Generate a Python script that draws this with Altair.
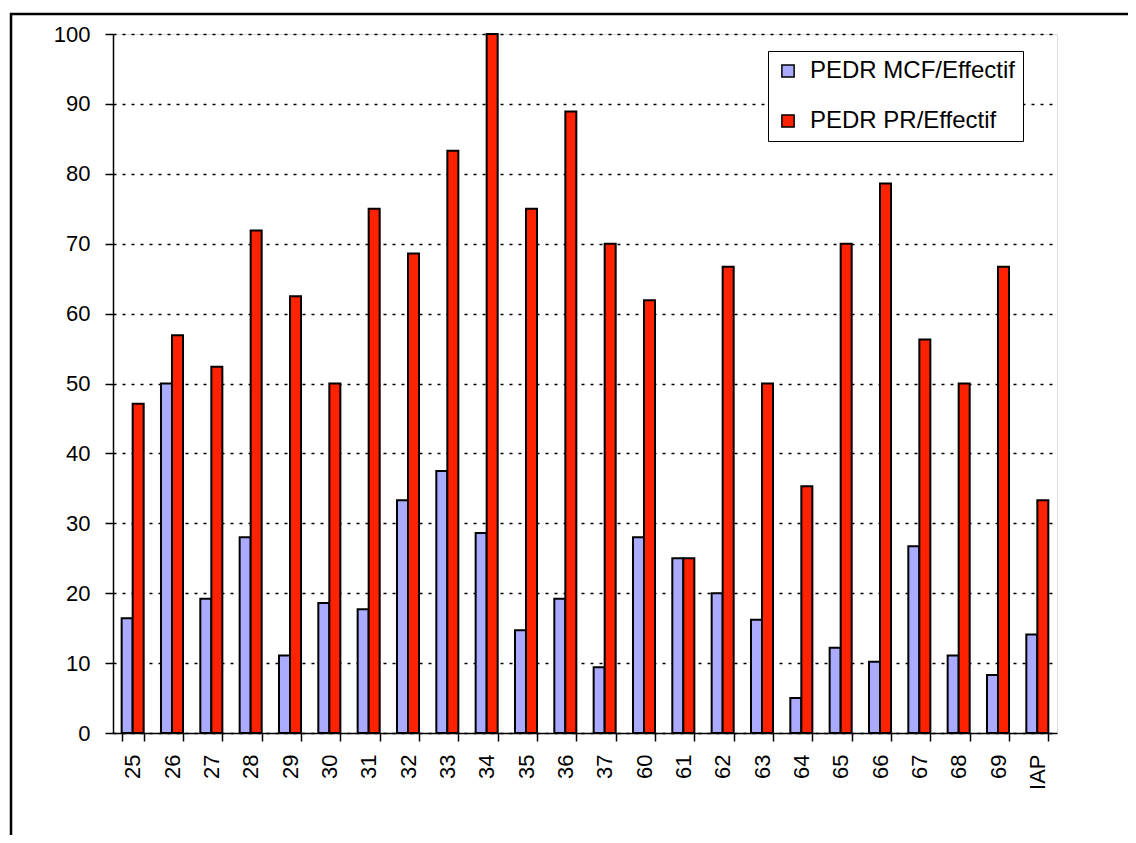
import altair as alt
import pandas as pd

categories = ["25", "26", "27", "28", "29", "30", "31", "32", "33", "34", "35", "36", "37",
              "60", "61", "62", "63", "64", "65", "66", "67", "68", "69", "IAP"]
mcf = [16.4, 50.0, 19.2, 28.0, 11.1, 18.6, 17.7, 33.3, 37.5, 28.6, 14.7, 19.2, 9.4,
       28.0, 25.0, 20.0, 16.2, 5.0, 12.2, 10.2, 26.7, 11.1, 8.3, 14.1]
pr = [47.1, 56.9, 52.4, 71.9, 62.5, 50.0, 75.0, 68.6, 83.3, 100.0, 75.0, 88.9, 70.0,
      61.9, 25.0, 66.7, 50.0, 35.3, 70.0, 78.6, 56.3, 50.0, 66.7, 33.3]
series_names = ["PEDR MCF/Effectif", "PEDR PR/Effectif"]
series_colors = ["#aaaaff", "#ff2200"]
y_ticks = list(range(0, 101, 10))

rows = []
for c, a, b in zip(categories, mcf, pr):
    rows.append({"cat": c, "serie": series_names[0], "val": a})
    rows.append({"cat": c, "serie": series_names[1], "val": b})
df = pd.DataFrame(rows)

FONT = "Liberation Sans"

bars = alt.Chart(df).mark_bar(stroke="black", strokeWidth=2, strokeOpacity=1).encode(
    x=alt.X("cat:N", sort=categories, title=None,
            scale=alt.Scale(paddingInner=0.44, paddingOuter=0.22),
            axis=alt.Axis(labelAngle=-90, tickBand="extent", labelFontSize=22,
                          labelFont=FONT, labelColor="black", domainColor="black",
                          domainWidth=1.5, tickColor="black", tickWidth=1.5, tickSize=8,
                          labelPadding=13, grid=False, labelBaseline="middle",
                          labelAlign="right")),
    xOffset=alt.XOffset("serie:N", sort=series_names),
    y=alt.Y("val:Q", title=None,
            scale=alt.Scale(domain=[0, 100], nice=False),
            axis=alt.Axis(values=y_ticks, labelFontSize=22, labelFont=FONT,
                          labelColor="black", domainColor="black", domainWidth=1.5,
                          tickColor="black", tickWidth=1.5, tickSize=8, labelPadding=15,
                          grid=True, gridColor="black", gridDash=[3, 6], gridWidth=1.5)),
    color=alt.Color("serie:N", sort=series_names,
                    scale=alt.Scale(domain=series_names, range=series_colors),
                    legend=alt.Legend(title=None, orient="none", legendX=655, legendY=17,
                                      direction="vertical", symbolType="square",
                                      symbolSize=150, symbolStrokeColor="black",
                                      symbolStrokeWidth=1.5, labelFontSize=24,
                                      labelFont=FONT, labelColor="black",
                                      labelLimit=400, rowPadding=26, labelOffset=10,
                                      padding=8, strokeColor="black",
                                      fillColor="white", cornerRadius=0)),
)

frame = alt.Chart(pd.DataFrame({"a": [0]})).mark_rect(
    fill=None, stroke="black", strokeWidth=2.5
).encode(
    x=alt.value(-102), x2=alt.value(1200), y=alt.value(-20), y2=alt.value(950)
)

chart = alt.layer(bars, frame).properties(
    width=944, height=699,
    autosize=alt.AutoSizeParams(type="none"),
    padding={"left": 105, "top": 26, "right": 71, "bottom": 102},
).configure_view(stroke="#999999", strokeWidth=1.5).configure(background="white")

chart.save("out.html", embed_options={"renderer": "svg", "actions": False})
